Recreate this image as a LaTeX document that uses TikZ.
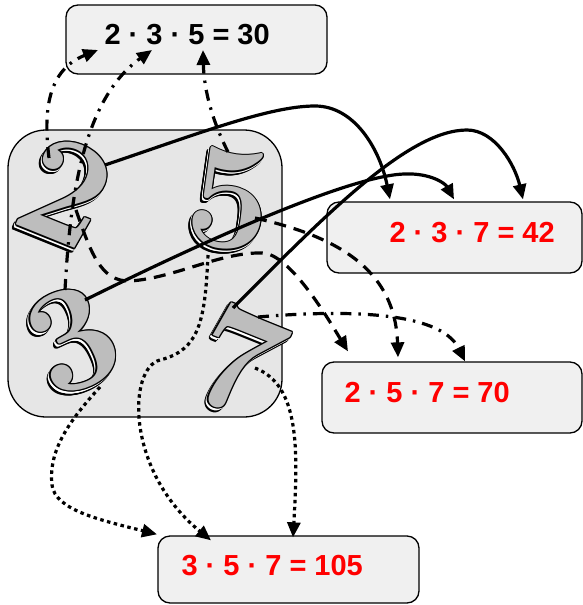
\documentclass[tikz,border=0pt]{standalone}
\usepackage{fontspec}
\usetikzlibrary{arrows.meta}
\usetikzlibrary{positioning}
\usetikzlibrary{calc}

\newfontfamily\labelfont{Liberation Sans}
\definecolor{panelgray}{HTML}{E6E6E6}
\definecolor{boxgray}{HTML}{F0F0F0}
\definecolor{digitgray}{HTML}{BDBDBD}

% big shaded numeral: name, position, angle, digit
\newcommand{\fancydigit}[4]{%
  \foreach \a in {0,45,...,315}
    \node[numeral,rotate=#3,text=black] at ($(#2)+(-2.5,3.5)+(\a:1.4)$) {#4};
  \foreach \a in {0,45,...,315}
    \node[numeral,rotate=#3,text=white] at ($(#2)+(-1.2,1.7)+(\a:1.2)$) {#4};
  \foreach \a in {0,45,...,315}
    \node[numeral,rotate=#3,text=black] at ($(#2)+(\a:1.3)$) {#4};
  \node[numeral,rotate=#3,text=digitgray] (#1) at (#2) {#4};
}

\begin{document}
\begin{tikzpicture}[x=1pt,y=-1pt,>={Triangle[length=15pt,width=13pt]},
		box/.style={draw,line width=1.3pt,rounded corners=12pt,fill=boxgray},
		val/.style={font=\labelfont\bfseries\fontsize{29}{29}\selectfont,inner sep=0pt},
		numeral/.style={font=\rmfamily\bfseries\fontsize{150}{150}\selectfont,inner sep=0pt},
		link/.style={->,line width=3.2pt},
		dashlink/.style={link,dash pattern=on 12pt off 8pt},
		dotlink/.style={link,dash pattern=on 3.5pt off 3.5pt},
		dashdotlink/.style={link,dash pattern=on 11pt off 7pt on 2.5pt off 7pt}]
		\useasboundingbox (0,0) rectangle (583,605);
		
		\node[draw,line width=1.3pt,rounded corners=38pt,fill=panelgray,
		minimum width=274pt,minimum height=287pt] (Frame) at (145,273.5) {};
		
		\node[box,minimum width=261pt,minimum height=69pt] (Thirty)   at (196.5,39.5)  {};
		\node[box,minimum width=255pt,minimum height=71pt] (FortyTwo) at (454.5,237.5) {};
		\node[box,minimum width=260pt,minimum height=71pt] (Seventy)  at (452,397.5)   {};
		\node[box,minimum width=261pt,minimum height=67pt] (OneOFive) at (288.5,569.5) {};
		
		\node[val]         [right=39pt of Thirty.west,yshift=4.5pt]   {2 · 3 · 5 = 30};
		\node[val,text=red] [right=63pt of FortyTwo.west,yshift=4.5pt] {2 · 3 · 7 = 42};
		\node[val,text=red] [right=23pt of Seventy.west,yshift=4.5pt]  {2 · 5 · 7 = 70};
		\node[val,text=red] [right=24pt of OneOFive.west,yshift=3.5pt] {3 · 5 · 7 = 105};
		
		\fancydigit{Two}{66,192}{-22}{2}
		\fancydigit{Five}{230,200}{-8}{5}
		\fancydigit{Three}{72,340}{25}{3}
		\fancydigit{Seven}{238,361}{-22}{7}
		
		% 2 * 3 * 5
		\draw[dashdotlink] ([shift={(-17,-34)}]Two.center) .. controls (43,110) and (48,70) .. ([shift={(-98.5,10.5)}]Thirty.center);
		\draw[dashdotlink] ([shift={(-7,-50)}]Three.center) .. controls (70,200) and (82,100) .. ([shift={(-44.5,10.5)}]Thirty.center);
		\draw[dashdotlink] ([shift={(-2,-48)}]Five.center) .. controls (212,120) and (204,90) .. ([shift={(6.5,10.5)}]Thirty.center);
		
		% 2 * 3 * 7
		\draw[link] ([shift={(39,-27)}]Two.center) .. controls (200,133) and (270,106) .. (315,106)
		.. controls (355,106) and (380,150) .. ([shift={(-64.5,-2)}]FortyTwo.north);
		\draw[link] ([shift={(13,-40)}]Three.center) .. controls (200,243) and (350,175) .. (405,174)
		.. controls (430,173) and (445,183) .. ([shift={(-0.5,-2)}]FortyTwo.north);
		\draw[link] ([shift={(-5,-53)}]Seven.center) .. controls (330,210) and (410,130) .. (467,130)
		.. controls (495,130) and (515,165) .. ([shift={(68.5,-2)}]FortyTwo.north);
		
		% 2 * 5 * 7
		\draw[dashlink] ([shift={(10,18)}]Two.center) .. controls (90,250) and (100,282) .. (130,281)
		.. controls (175,278) and (220,252) .. (262,253)
		.. controls (290,253) and (330,322) .. ([shift={(-104,-10)}]Seventy.north);
		\draw[dashlink] ([shift={(25,18)}]Five.center) .. controls (330,235) and (395,265) .. ([shift={(-54,-4)}]Seventy.north);
		\draw[dashdotlink] ([shift={(20,-44)}]Seven.center) .. controls (340,310) and (440,310) .. ([shift={(13,0)}]Seventy.north);
		
		% 3 * 5 * 7
		\draw[dotlink] ([shift={(28,47)}]Three.center) .. controls (70,420) and (48,450) .. (52,485)
		.. controls (55,510) and (100,520) .. ([shift={(-131.5,-1)}]OneOFive.north);
		\draw[dotlink] ([shift={(-22,55)}]Five.center) .. controls (205,320) and (200,350) .. (160,360)
		.. controls (128,368) and (125,470) .. ([shift={(-77.5,5)}]OneOFive.north);
		\draw[dotlink] ([shift={(17,7)}]Seven.center) .. controls (300,385) and (298,450) .. ([shift={(4.5,2)}]OneOFive.north);
\end{tikzpicture}
\end{document}
